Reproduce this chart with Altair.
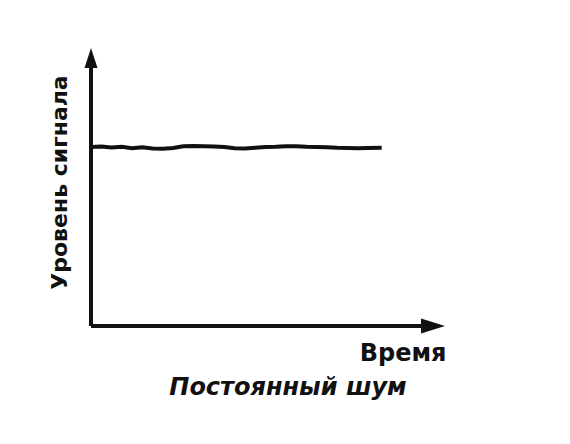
import altair as alt
import pandas as pd

# Signal level (constant with slight noise) over time
time_x = [0, 3, 6, 9, 12, 15, 18, 21, 24, 27, 30, 33, 36, 39, 42, 45, 48,
          51, 54, 57, 60, 63, 66, 69, 72, 75, 78, 81, 85]
signal_y = [66.8, 67.0, 66.6, 66.9, 66.3, 66.7, 66.2, 66.1, 66.4, 67.1, 67.2,
            67.1, 67.0, 66.8, 66.3, 66.2, 66.5, 66.8, 66.9, 67.1, 67.1, 66.9,
            66.8, 66.7, 66.5, 66.4, 66.3, 66.4, 66.5]

x_title = "Время"
y_title = "Уровень сигнала"
caption = "Постоянный шум"

FONT = "DejaVu Sans"

sig = pd.DataFrame({"t": time_x, "v": signal_y})
axes_df = pd.DataFrame({"x": [0, 0], "x2": [100, 0], "y": [0, 0], "y2": [0, 100]})
arrow_right = pd.DataFrame({"x": [100], "y": [0]})
arrow_up = pd.DataFrame({"x": [0], "y": [100]})

xs = alt.Scale(domain=[0, 100], nice=False, zero=False)
ys = alt.Scale(domain=[0, 100], nice=False, zero=False)

x_axis = alt.Axis(domain=False, ticks=False, labels=False, grid=False,
                  title=x_title, titleFont=FONT, titleFontSize=24,
                  titleFontWeight="bold", titleColor="#111",
                  titleAlign="right", titleBaseline="alphabetic",
                  titleAngle=0, titleX=355, titleY=34)
y_axis = alt.Axis(domain=False, ticks=False, labels=False, grid=False,
                  title=y_title, titleFont=FONT, titleFontSize=22,
                  titleFontWeight="bold", titleColor="#111",
                  titleAlign="center", titleBaseline="alphabetic",
                  titleAngle=270, titleX=-25, titleY=124)

line = alt.Chart(sig).mark_line(color="#111", strokeWidth=4).encode(
    x=alt.X("t:Q", scale=xs, axis=x_axis),
    y=alt.Y("v:Q", scale=ys, axis=y_axis),
)

rules = alt.Chart(axes_df).mark_rule(color="#111", strokeWidth=4).encode(
    x=alt.X("x:Q", scale=xs), x2="x2:Q",
    y=alt.Y("y:Q", scale=ys), y2="y2:Q",
)

arr_r = alt.Chart(arrow_right).mark_point(
    shape="M-1,-0.62L1,0L-1,0.62Z", filled=True, color="#111",
    size=576, opacity=1, clip=False
).encode(x=alt.X("x:Q", scale=xs), y=alt.Y("y:Q", scale=ys))

arr_u = alt.Chart(arrow_up).mark_point(
    shape="M-0.65,1L0,-1L0.65,1Z", filled=True, color="#111",
    size=400, opacity=1, clip=False
).encode(x=alt.X("x:Q", scale=xs), y=alt.Y("y:Q", scale=ys))

chart = alt.layer(rules, line, arr_r, arr_u).properties(
    width=342, height=268,
    autosize=alt.AutoSizeParams(type="none"),
    padding={"left": 83, "top": 50, "right": 120, "bottom": 100},
    background="white",
    title=alt.TitleParams(caption, orient="bottom", anchor="middle",
                          font=FONT, fontSize=24, fontStyle="italic",
                          fontWeight="bold", color="#111", dx=26, offset=11),
).configure_view(stroke=None)

chart.save("out.html", embed_options={"renderer": "svg", "actions": False})
